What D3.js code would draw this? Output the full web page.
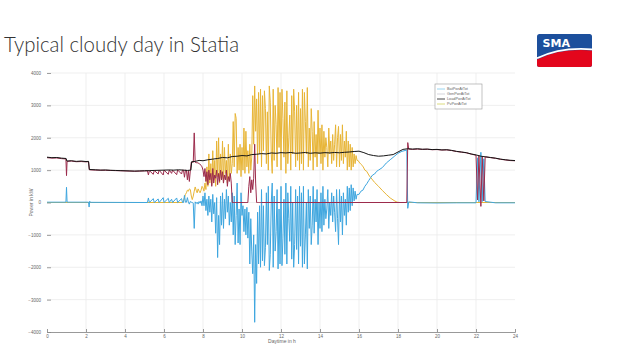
<!DOCTYPE html>
<html><head><meta charset="utf-8">
<script src="https://cdn.jsdelivr.net/npm/d3@7"></script>
<style>html,body{margin:0;padding:0;background:#fff;} svg{display:block;}</style>
</head><body><svg id="c" width="617" height="360"></svg>
<script>
// ---------------- DATA ----------------
const titleText = "Typical cloudy day in Statia";
const xTicks = [0,2,4,6,8,10,12,14,16,18,20,22,24];
const yTicks = [-4000,-3000,-2000,-1000,0,1000,2000,3000,4000];
const seriesNames = ["BatPwrAtTot","GenPwrAtTot","LoadPwrAtTot","PvPwrAtTot"];

// dense samples: start hour 7.0, one sample every 0.05 h
const denseStartHour = 7.0;
const denseStepHour = 0.05;

// PV (kW) 7.00 .. 15.95
const pvDenseKW = [
 50,150,250,300,380,350,420,400,200,90,200,350,480,380,300,420,350,300,380,500,
 450,350,600,400,1100,500,1500,600,1200,550,1600,700,1300,500,1900,800,2000,600,1500,700,
 1900,600,1700,900,1300,600,1800,700,1500,900,1200,2500,1100,2750,2600,900,1700,1000,1800,800,
 1700,1000,2300,900,2200,1100,1600,900,1800,1000,1400,3300,1800,3600,2200,3200,1200,3400,1500,3500,
 1100,3300,1600,3450,2900,1200,2800,1000,3600,3100,1500,900,3500,1300,3000,2400,1100,3550,1700,3400,
 1000,3500,2600,1400,3100,900,3450,1200,2000,2700,1000,3300,1500,3500,2800,1100,3000,1300,3400,1000,
 2900,1200,3500,1000,3400,2500,1500,3550,1100,2300,1300,2900,2200,1000,2500,1400,2100,1100,2850,1500,
 2300,1200,2400,1000,2200,1400,2000,1700,1100,2300,1500,1900,1200,2100,1300,1800,2400,1100,2000,2350,
 1100,2100,1300,2400,1200,1900,1400,2200,1000,1900,1100,1800,1000,1700,1100,1500,1200,1450,1300,1300
];
const pvCoarseHours = [0,6.95,16.0,16.1,16.2,16.3,16.4,16.5,16.6,16.8,17.0,17.2,17.4,17.6,17.8,17.95,18.1,24];
const pvCoarseKW    = [0,0,1250,1180,1120,1000,960,850,770,620,500,370,250,140,60,10,0,0];

// Battery (kW) 7.00 .. 15.95
const batDenseKW = [
 0,220,10,10,150,10,-50,30,10,0,-20,-800,20,-30,10,-50,30,-20,50,-100,
 200,-100,300,-250,100,-400,200,-300,100,-600,250,-350,0,-950,150,-1700,-400,-1300,200,-700,
 300,-800,100,-500,400,-300,200,-700,0,-600,300,-1000,200,-1300,-400,600,-1250,-200,-1300,300,
 -400,-100,-900,-200,-1000,-150,-1100,-300,-1900,-500,-1500,-2200,-1000,-3700,-1300,-2500,-300,-1900,-100,-2000,
 400,-1800,-100,-1950,-1400,300,-1300,500,-2100,-1600,0,600,-2000,200,-1500,-900,400,-2050,-200,-1900,
 500,-1950,-1100,100,-1600,600,-1900,300,-500,-1200,500,-1750,0,-2000,-1300,400,-1450,200,-1900,500,
 -1350,300,-2000,500,-1900,-1000,0,-2050,400,-800,200,-1300,-700,500,-950,100,-600,400,-1300,0,
 -800,300,-900,500,-700,100,-500,-200,400,-800,0,-400,300,-600,200,-300,-900,400,-500,-1300,
 400,-600,200,-1000,300,-400,100,-700,500,-300,450,-250,550,-100,450,50,350,100,250,250
];
const batCoarseHours = [0,0.97,1.0,1.03,2.13,2.16,2.19,2.22,5.15,5.2,5.25,5.45,5.5,5.7,5.75,5.96,6.0,6.22,6.27,6.39,6.44,6.65,6.7,6.9,6.95,
 16.0,16.1,16.2,16.3,16.4,16.5,16.6,16.7,16.8,16.9,17.0,17.2,17.4,17.6,17.8,18.0,18.2,18.45,18.5,18.55,19,20,21,22.0,22.08,22.15,22.25,22.32,22.4,22.47,23,24];
const batCoarseKW = [10,10,470,10,10,-140,40,5,0,140,0,120,0,110,0,150,0,130,0,100,0,140,0,120,0,
 250,350,380,500,580,680,770,850,880,960,1000,1080,1220,1320,1420,1520,1580,1620,-180,20,-10,-15,-10,-10,1380,20,1550,30,1350,30,-10,-10];

// Generator (kW) 7.00 .. 10.95
const genDenseKW = [
 1000,780,1000,990,700,980,650,990,1250,1240,1240,2150,1240,1230,1230,1220,1200,1180,1150,1100,
 1000,800,1050,650,950,550,1000,700,900,500,1050,600,850,750,1000,550,900,650,1000,700,
 950,600,850,700,1000,500,800,650,900,600,0,0,0,0,0,0,0,0,0,0,
 0,0,0,0,0,0,0,500,800,300,700,400,750,1800,600,0,0,0,0,0
];
const genCoarseHours = [0,0.25,0.5,0.75,0.97,1.0,1.03,1.25,1.5,1.75,2.0,2.13,2.17,2.5,3.0,3.5,4.0,4.5,5.0,5.15,5.2,5.25,5.45,5.5,5.7,5.75,5.96,6.0,6.22,6.27,6.39,6.44,6.65,6.7,6.9,6.95,
 11.0,18.45,18.5,18.55,18.75,19.0,19.25,19.5,19.75,20.0,20.25,20.5,20.75,21.0,21.25,21.5,21.75,22.0,22.08,22.15,22.25,22.32,22.4,22.47,22.75,23.0,23.25,23.5,23.75,24];
const genCoarseKW = [1385,1370,1375,1355,1345,830,1270,1280,1260,1265,1255,1260,1010,1000,995,985,975,965,975,980,850,985,870,990,880,995,850,1000,870,1000,900,1000,860,1005,880,1000,
 0,0,1850,1650,1640,1650,1640,1645,1630,1635,1620,1625,1605,1575,1555,1535,1495,1460,80,1450,-120,1420,50,1410,1385,1365,1335,1315,1295,1290];

// Load (kW)
const loadHours = [0,0.25,0.5,0.75,0.98,1.02,1.25,1.5,1.75,2.0,2.13,2.17,2.5,2.75,3.0,3.25,3.5,3.75,4.0,4.25,4.5,4.75,5.0,5.25,5.5,5.75,6.0,6.25,6.5,6.75,7.0,7.2,7.38,7.42,7.6,7.8,8.0,8.25,8.5,8.75,9.0,9.25,9.5,9.75,10.0,10.25,10.5,10.75,11.0,11.25,11.5,11.75,12.0,12.25,12.5,12.75,13.0,13.25,13.5,13.75,14.0,14.25,14.5,14.75,15.0,15.25,15.5,15.75,16.0,16.25,16.5,16.75,17.0,17.25,17.5,17.75,18.0,18.25,18.5,18.75,19.0,19.25,19.5,19.75,20.0,20.25,20.5,20.75,21.0,21.25,21.5,21.75,22.0,22.25,22.5,22.75,23.0,23.25,23.5,23.75,24.0];
const loadKW = [1400,1385,1390,1370,1360,1280,1290,1270,1280,1265,1270,1020,1010,1000,1005,995,990,985,980,975,970,975,980,985,990,995,1000,1005,1000,1010,1000,990,1000,1260,1270,1300,1290,1320,1340,1360,1390,1380,1420,1430,1450,1440,1480,1490,1510,1500,1530,1520,1540,1530,1545,1520,1530,1545,1520,1535,1525,1540,1530,1545,1535,1550,1560,1575,1585,1540,1480,1450,1430,1440,1460,1480,1560,1640,1660,1650,1660,1645,1650,1635,1640,1625,1630,1610,1580,1560,1540,1500,1470,1430,1410,1390,1370,1340,1320,1305,1295];

// ---------------- DRAW ----------------
const svg = d3.select("#c");
const x = d3.scaleLinear().domain([0,24]).range([47,515]);
const y = d3.scaleLinear().domain([-4000,4000]).range([332,73]);

function build(coarseH, coarseV, dense) {
  const pts = coarseH.map((h,i)=>({h, v: coarseV[i]}));
  if (dense) dense.forEach((v,i)=>pts.push({h: denseStartHour + i*denseStepHour, v}));
  pts.sort((a,b)=>a.h-b.h);
  return pts;
}
const bat = build(batCoarseHours, batCoarseKW, batDenseKW);
const gen = build(genCoarseHours, genCoarseKW, genDenseKW);
const pv = build(pvCoarseHours, pvCoarseKW, pvDenseKW);
const load = build(loadHours, loadKW, null);

// grid
svg.append("g").selectAll("line").data(xTicks.slice(1,-1)).join("line")
  .attr("x1",d=>x(d)).attr("x2",d=>x(d)).attr("y1",y(4000)).attr("y2",y(-4000))
  .attr("stroke","#ebebeb").attr("stroke-width",0.8);
svg.append("g").selectAll("line").data(yTicks.slice(1)).join("line")
  .attr("x1",x(0)).attr("x2",x(24)).attr("y1",d=>y(d)).attr("y2",d=>y(d))
  .attr("stroke","#ebebeb").attr("stroke-width",0.8);

// axes
const fontAx = "Liberation Sans, Arial, sans-serif";
const xAxis = d3.axisBottom(x).tickValues(xTicks).tickSize(-3).tickPadding(3).tickFormat(d3.format("d"));
const gx = svg.append("g").attr("transform",`translate(0,${y(-4000)})`).call(xAxis);
gx.select(".domain").attr("stroke","#999").attr("stroke-width",1);
gx.selectAll(".tick line").attr("stroke","#999");
gx.selectAll("text").attr("font-size",4.5).attr("fill","#666").attr("font-family",fontAx);

const yAxis = d3.axisLeft(y).tickValues(yTicks).tickSize(-4).tickPadding(6).tickFormat(d3.format("d"));
const gy = svg.append("g").attr("transform",`translate(${x(0)},0)`).call(yAxis);
gy.select(".domain").remove();
gy.selectAll(".tick line").attr("stroke","#888").attr("stroke-width",0.8);
gy.selectAll("text").attr("font-size",4.5).attr("fill","#666").attr("font-family",fontAx);

svg.append("text").attr("transform",`translate(33,${y(0)}) rotate(-90)`).attr("text-anchor","middle")
  .attr("font-size",5).attr("fill","#666").attr("font-family",fontAx).text("Power in kW");
svg.append("text").attr("x",282).attr("y",343).attr("text-anchor","middle")
  .attr("font-size",5).attr("fill","#666").attr("font-family",fontAx).text("Daytime in h");

// lines
const line = d3.line().x(d=>x(d.h)).y(d=>y(d.v));
const colors = {bat:"#3ea6df", gen:"#9c2b4c", load:"#151515", pv:"#e8b536"};
svg.append("path").datum(pv).attr("d",line).attr("fill","none").attr("stroke",colors.pv).attr("stroke-width",1);
svg.append("path").datum(bat).attr("d",line).attr("fill","none").attr("stroke",colors.bat).attr("stroke-width",1);
svg.append("path").datum(gen).attr("d",line).attr("fill","none").attr("stroke",colors.gen).attr("stroke-width",1);
svg.append("path").datum(load).attr("d",line).attr("fill","none").attr("stroke",colors.load).attr("stroke-width",1);

// legend
const lg = svg.append("g").attr("transform","translate(435,84)");
lg.append("rect").attr("width",47).attr("height",25).attr("fill","#fff").attr("stroke","#999").attr("stroke-width",0.6);
const legendColors = ["#8fd0ee","#d0d0d8","#333","#d8d870"];
seriesNames.forEach((n,i)=>{
  const yy = 5 + i*5;
  lg.append("line").attr("x1",2).attr("x2",10).attr("y1",yy).attr("y2",yy).attr("stroke",legendColors[i]).attr("stroke-width",0.9);
  lg.append("text").attr("x",12).attr("y",yy+1.4).attr("font-size",3.8).attr("fill","#666").attr("font-family",fontAx).text(n);
});

// title
svg.append("text").attr("x",4).attr("y",52).attr("font-family","Lato, 'Open Sans', sans-serif").attr("font-weight",300)
  .attr("font-size",22).attr("fill","#333").attr("textLength",235).attr("lengthAdjust","spacingAndGlyphs").text(titleText);

// SMA logo
const logo = svg.append("g");
const defs = svg.append("defs");
defs.append("clipPath").attr("id","lc").append("rect").attr("x",537).attr("y",34).attr("width",55).attr("height",33).attr("rx",2.5);
const lgc = logo.append("g").attr("clip-path","url(#lc)");
lgc.append("rect").attr("x",537).attr("y",34).attr("width",55).attr("height",33).attr("fill","#1c4f9c");
lgc.append("path").attr("d","M537,59.5 Q560,48 592,50.5 L592,67 L537,67 Z").attr("fill","#e3061c");
lgc.append("path").attr("d","M537,58.3 Q560,46.8 592,49.3").attr("fill","none").attr("stroke","#fff").attr("stroke-width",1.8);
logo.append("text").attr("x",542.5).attr("y",47).attr("font-family","'DejaVu Sans', sans-serif").attr("font-weight","bold")
  .attr("font-size",10.5).attr("fill","#fff").attr("textLength",27.5).attr("lengthAdjust","spacingAndGlyphs").text("SMA");
</script></body></html>
